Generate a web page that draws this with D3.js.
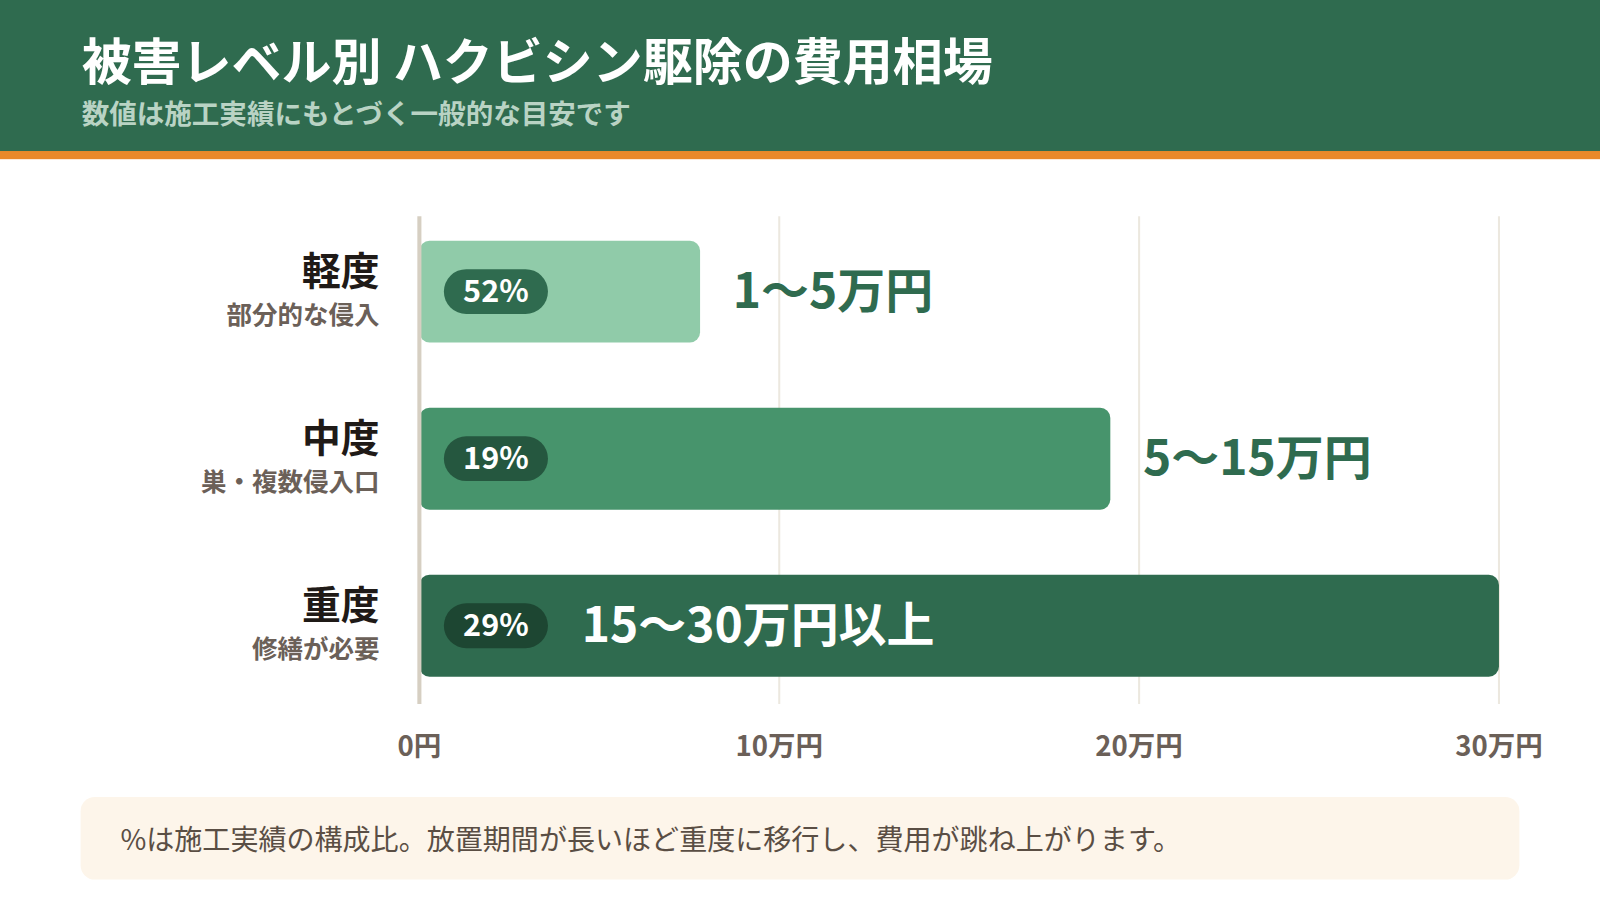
<!DOCTYPE html>
<html><head><meta charset="utf-8">
<script src="https://cdn.jsdelivr.net/npm/d3@7"></script>
<style>body{margin:0;background:#fff;font-family:"Noto Sans CJK JP","Noto Sans",sans-serif}</style>
</head><body><svg id="c" width="1600" height="920"></svg>
<script>
// data
const levels = ["軽度", "中度", "重度"];
const subLabels = ["部分的な侵入", "巣・複数侵入口", "修繕が必要"];
const barEnds = [7.8, 19.2, 30];           // bar length in 万円
const shares = ["52%", "19%", "29%"];
const costLabels = ["1〜5万円", "5〜15万円", "15〜30万円以上"];
const ticks = [0, 10, 20, 30];
const tickLabels = ["0円", "10万円", "20万円", "30万円"];

const barFill = ["#90cba9", "#47946c", "#2f6b4f"];
const pillFill = ["#2f6b4f", "#25573f", "#1d4632"];
const green = "#2f6b4f";

const root = d3.select("#c");
root.append("rect").attr("width", 1600).attr("height", 153).attr("fill", green);
const svg = root.append("g").attr("transform", "scale(1.0204)");

// header
svg.append("rect").attr("y", 148).attr("width", 1600).attr("height", 8).attr("fill", "#e8892a");
svg.append("text").attr("x", 80).attr("y", 78).attr("fill", "#fff")
  .attr("font-size", 49).attr("font-weight", 700).text("被害レベル別 ハクビシン駆除の費用相場");
svg.append("text").attr("x", 80).attr("y", 122).attr("fill", "#b9d3c4")
  .attr("font-size", 27).attr("font-weight", 700).text("数値は施工実績にもとづく一般的な目安です");

const x = d3.scaleLinear().domain([0, 30]).range([411, 1469]);
const y = d3.scaleBand().domain(levels).range([208, 691]).paddingInner(0.39).paddingOuter(0.17);

// grid
svg.selectAll(".grid").data(ticks.slice(1)).join("line")
  .attr("x1", d => x(d)).attr("x2", d => x(d)).attr("y1", 212).attr("y2", 690)
  .attr("stroke", "#ece8df").attr("stroke-width", 2);

svg.selectAll(".tick").data(ticks).join("text")
  .attr("x", d => x(d)).attr("y", 741).attr("text-anchor", "middle")
  .attr("font-size", 27).attr("font-weight", 700).attr("fill", "#6b6058")
  .text((d, i) => tickLabels[i]);

const g = svg.selectAll(".bar").data(levels).join("g");
g.append("rect")
  .attr("x", x(0)).attr("y", d => y(d))
  .attr("width", (d, i) => x(barEnds[i]) - x(0)).attr("height", y.bandwidth())
  .attr("rx", 10).attr("fill", (d, i) => barFill[i]);

g.append("rect")
  .attr("x", 435).attr("y", d => y(d) + y.bandwidth() / 2 - 22)
  .attr("width", 102).attr("height", 44).attr("rx", 22)
  .attr("fill", (d, i) => pillFill[i]);
g.append("text")
  .attr("x", 486).attr("y", d => y(d) + y.bandwidth() / 2 + 10)
  .attr("text-anchor", "middle").attr("fill", "#fff")
  .attr("font-size", 30).attr("font-weight", 700).text((d, i) => shares[i]);

g.append("text")
  .attr("x", (d, i) => i === 2 ? 570 : x(barEnds[i]) + 32)
  .attr("y", d => y(d) + y.bandwidth() / 2 + 16)
  .attr("fill", (d, i) => i === 2 ? "#fff" : green)
  .attr("font-size", 47).attr("font-weight", 700).text((d, i) => costLabels[i]);

g.append("text").attr("x", 372).attr("y", d => y(d) + 43)
  .attr("text-anchor", "end").attr("font-size", 38).attr("font-weight", 700).attr("fill", "#1f1a17")
  .text(d => d);
g.append("text").attr("x", 372).attr("y", d => y(d) + 82)
  .attr("text-anchor", "end").attr("font-size", 25).attr("font-weight", 700).attr("fill", "#6b6058")
  .text((d, i) => subLabels[i]);

// axis line
svg.append("line").attr("x1", x(0)).attr("x2", x(0)).attr("y1", 212).attr("y2", 690)
  .attr("stroke", "#d6cfc2").attr("stroke-width", 4);

// footnote
svg.append("rect").attr("x", 79).attr("y", 781).attr("width", 1410).attr("height", 81)
  .attr("rx", 14).attr("fill", "#fdf5ea");
svg.append("text").attr("x", 118).attr("y", 833).attr("font-size", 27.5).attr("fill", "#5a4e44")
  .text("%は施工実績の構成比。放置期間が長いほど重度に移行し、費用が跳ね上がります。");
</script></body></html>
